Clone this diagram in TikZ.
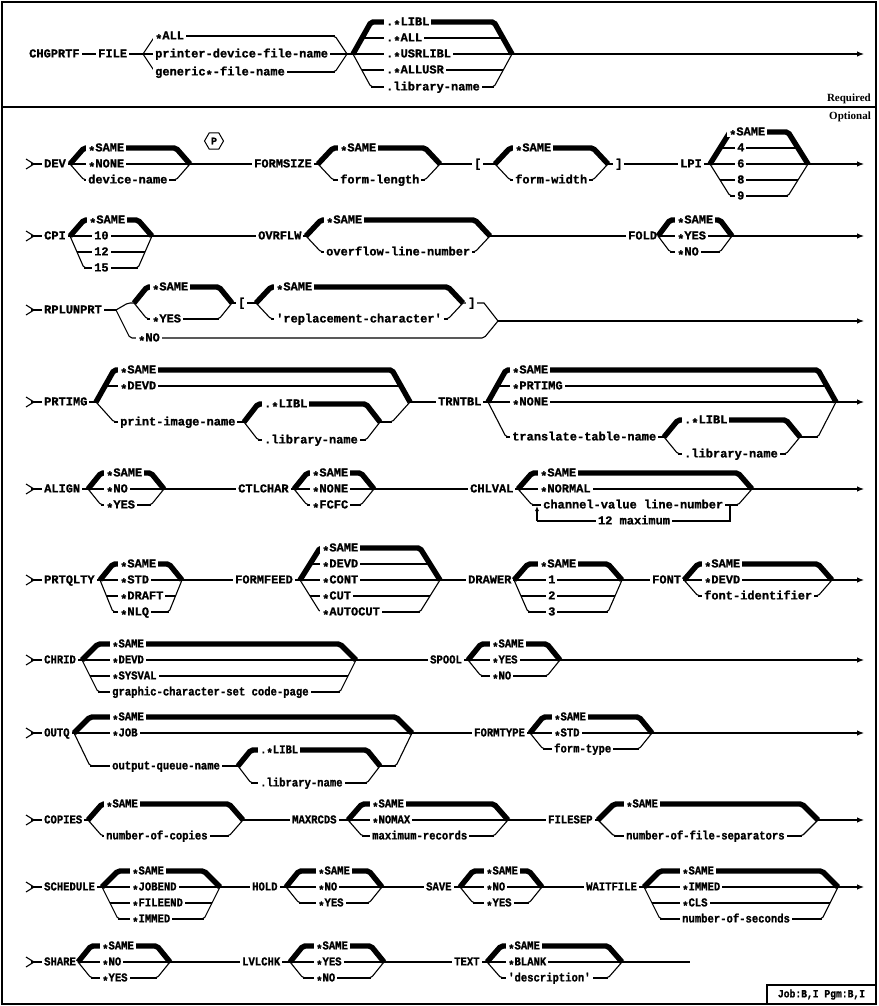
\documentclass[tikz,border=0pt]{standalone}
\usepackage{fontspec}
\setmainfont{Liberation Serif}
\newfontfamily\dfont{Liberation Mono}[BoldFeatures={FakeBold=1.2}]
\newfontfamily\cfont{Liberation Mono}[FakeStretch=0.88,BoldFeatures={FakeBold=1.2}]
\usetikzlibrary{arrows.meta,shapes.geometric}
\newcommand\curfont{\dfont\bfseries\fontsize{12}{12}\selectfont}
\newcommand\A{\raisebox{-0.3em}{*}}
\tikzset{
 ln/.style={line width=1.1pt},
 thk/.style={line width=5.4pt},
 arr/.style={line width=1.1pt,-{Latex[length=7pt,width=5.5pt]}},
 lab/.style={font=\curfont,fill=white,inner xsep=2pt,inner ysep=1.6pt,text height=6.8pt,text depth=0pt,anchor=west},
 hex/.style={draw,line width=1pt,regular polygon,regular polygon sides=6,minimum size=19pt,inner sep=0pt,font=\dfont\bfseries\fontsize{10}{10}\selectfont},
 tag/.style={font=\rmfamily\bfseries\fontsize{11}{11}\selectfont,anchor=east,inner sep=0pt}
}
% #1 xL, #2 xR, #3 ymain, #4 ytop, #5 ybot, #6 bracket width, #7 thick default, #8 items y/x/label
\newcommand\grp[8]{%
 \ifnum#7=1\relax
   \draw[thk,rounded corners=2pt] (#1,#3) -- ({#1+#6},#4) -- ({#2-#6},#4) -- (#2,#3);
 \else
   \draw[ln,rounded corners=2pt] (#1,#3) -- ({#1+#6},#4) -- ({#2-#6},#4) -- (#2,#3);
 \fi
 \draw[ln,rounded corners=2pt] (#1,#3) -- ({#1+#6},#5) -- ({#1+#6+6},#5);
 \draw[ln,rounded corners=2pt] ({#2-#6-6},#5) -- ({#2-#6},#5) -- (#2,#3);
 \foreach \yy/\xx/\lb in {#8}{%
   \pgfmathsetmacro\off{\yy<#3 ? #6*(#3-\yy)/max(#3-#4,0.01) : (\yy>#3 ? #6*(\yy-#3)/max(#5-#3,0.01) : 0)}%
   \ifdim\xx pt<0pt\else
     \draw[ln] ({#1+\off},\yy) -- ({#2-\off},\yy);
     \node[lab] at (\xx,\yy) {\lb};
   \fi
 }%
}
\newcommand\startm[2]{\draw[ln] (#1,{#2-5}) -- ({#1+8},#2) -- (#1,{#2+5});}
\begin{document}
\begin{tikzpicture}[x=1pt,y=-1pt]
\useasboundingbox (0,0) rectangle (878,1006);
\draw[line width=1.5pt] (2,2) rectangle (876,1004);
\draw[line width=1.5pt] (2,107) -- (876,107);
\node[tag] (req) at (871,99) {Required};
\node[tag] (opt) at (871,117) {Optional};

% ---- CHGPRTF
\draw[ln] (76,54) -- (143,54);
\node[lab] (chg) at (27,54) {CHGPRTF};
\node[lab] (file) at (96,54) {FILE};
\grp{143}{347}{54}{36}{72}{12}{0}{36/153/\A ALL, 54/153/printer-device-file-name, 72/153/generic\A-file-name}
\draw[ln] (347,54) -- (353,54);
\grp{353}{512}{54}{22}{87}{18}{1}{22/384/.\A LIBL, 38/384/.\A ALL, 54/384/.\A USRLIBL, 70/384/.\A ALLUSR, 87/384/.library-name}
\draw[arr] (512,54) -- (864,54);

% ---- DEV row
\startm{26}{164}
\draw[ln] (31,164) -- (70,164);
\node[lab] (dev) at (42,164) {DEV};
\grp{70}{190}{164}{148}{180}{14}{1}{148/86/\A SAME, 164/86/\A NONE, 180/86/device-name}
\node[hex] (p) at (214,141) {P};
\draw[ln] (190,164) -- (318,164);
\node[lab] (formsize) at (252,164) {FORMSIZE};
\grp{318}{440}{164}{148}{180}{15}{1}{148/338/\A SAME, 180/338/form-length}
\draw[ln] (440,164) -- (495,164);
\node[lab] (lb1) at (472,164) {[};
\grp{495}{608}{164}{148}{180}{15}{1}{148/513/\A SAME, 180/513/form-width}
\draw[ln] (608,164) -- (710,164);
\node[lab] (rb1) at (613,164) {]};
\node[lab] (lpi) at (678,164) {LPI};
\grp{710}{808}{164}{132}{196}{20}{1}{132/727/\A SAME, 148/735/4, 164/735/6, 180/735/8, 196/735/9}
\draw[arr] (808,164) -- (864,164);

% ---- CPI row
\startm{26}{236}
\draw[ln] (31,236) -- (70,236);
\node[lab] (cpi) at (42,236) {CPI};
\grp{70}{152}{236}{220}{268}{14}{1}{220/87/\A SAME, 236/92/10, 252/92/12, 268/92/15}
\draw[ln] (152,236) -- (306,236);
\node[lab] (ovr) at (256,236) {OVRFLW};
\grp{306}{490}{236}{220}{252}{15}{1}{220/324/\A SAME, 252/324/overflow-line-number}
\draw[ln] (490,236) -- (658,236);
\node[lab] (fold) at (626,236) {FOLD};
\grp{658}{732}{236}{220}{252}{12}{1}{220/675/\A SAME, 236/675/\A YES, 252/675/\A NO}
\draw[arr] (732,236) -- (864,236);

% ---- RPLUNPRT row
\startm{26}{310}
\draw[ln] (31,310) -- (116,310);
\node[lab] (rpl) at (42,310) {RPLUNPRT};
\draw[ln,rounded corners=2pt] (116,310) -- (128,303) -- (134,303);
\grp{134}{232}{303}{287}{319}{13}{1}{287/150/\A SAME, 319/150/\A YES}
\draw[ln] (232,303) -- (256,303);
\node[lab] (lb2) at (236,303) {[};
\grp{256}{463}{303}{287}{319}{15}{1}{287/274/\A SAME, 319/274/'replacement-character'}
\draw[ln] (463,303) -- (484,303) -- (498,321);
\node[lab] (rb2) at (466,303) {]};
\draw[ln,rounded corners=2pt] (116,310) -- (130,338) -- (484,338) -- (498,321);
\node[lab] (no) at (136,338) {\A NO};
\draw[arr] (498,321) -- (864,321);

% ---- PRTIMG row
\startm{26}{402}
\draw[ln] (31,402) -- (96,402);
\node[lab] (prtimg) at (42,402) {PRTIMG};
\grp{96}{410}{402}{370}{422}{18}{1}{370/118/\A SAME, 386/118/\A DEVD, 422/-1/x}
\draw[ln] (114,422) -- (244,422);
\node[lab] (pin) at (118,422) {print-image-name};
\grp{244}{380}{422}{404}{440}{14}{1}{404/262/.\A LIBL, 440/262/.library-name}
\draw[ln] (380,422) -- (392,422);
\draw[ln] (410,402) -- (488,402);
\node[lab] (trn) at (436,402) {TRNTBL};
\grp{488}{836}{402}{370}{437}{18}{1}{370/510/\A SAME, 386/510/\A PRTIMG, 402/510/\A NONE, 437/-1/x}
\draw[ln] (506,437) -- (664,437);
\node[lab] (ttn) at (510,437) {translate-table-name};
\grp{664}{800}{437}{420}{454}{14}{1}{420/682/.\A LIBL, 454/682/.library-name}
\draw[ln] (800,437) -- (818,437);
\draw[arr] (836,402) -- (864,402);

% ---- ALIGN row
\startm{26}{489}
\draw[ln] (31,489) -- (88,489);
\node[lab] (align) at (42,489) {ALIGN};
\grp{88}{164}{489}{473}{505}{13}{1}{473/104/\A SAME, 489/104/\A NO, 505/104/\A YES}
\draw[ln] (164,489) -- (294,489);
\node[lab] (ctl) at (236,489) {CTLCHAR};
\grp{294}{374}{489}{473}{505}{13}{1}{473/310/\A SAME, 489/310/\A NONE, 505/310/\A FCFC}
\draw[ln] (374,489) -- (518,489);
\node[lab] (chl) at (468,489) {CHLVAL};
\grp{518}{752}{489}{473}{505}{14}{1}{473/538/\A SAME, 489/538/\A NORMAL, 505/-1/x}
\draw[ln] (532,505) -- (738,505);
\draw[ln] (730,505) -- (730,521) -- (537,521);
\draw[ln,-{Latex[length=5pt,width=4pt]}] (537,521) -- (537,506);
\node[lab] (cvl) at (541,505) {channel-value line-number};
\node[lab,anchor=center] (max) at (634,521) {12 maximum};
\draw[arr] (752,489) -- (864,489);

% ---- PRTQLTY row
\startm{26}{580}
\draw[ln] (31,580) -- (100,580);
\node[lab] (prtq) at (42,580) {PRTQLTY};
\grp{100}{182}{580}{564}{612}{13}{1}{564/118/\A SAME, 580/118/\A STD, 596/118/\A DRAFT, 612/118/\A NLQ}
\draw[ln] (182,580) -- (300,580);
\node[lab] (ffd) at (233,580) {FORMFEED};
\grp{300}{440}{580}{548}{612}{20}{1}{548/320/\A SAME, 564/320/\A DEVD, 580/320/\A CONT, 596/320/\A CUT, 612/320/\A AUTOCUT}
\draw[ln] (440,580) -- (514,580);
\node[lab] (drw) at (466,580) {DRAWER};
\grp{514}{622}{580}{564}{612}{14}{1}{564/538/\A SAME, 580/546/1, 596/546/2, 612/546/3}
\draw[ln] (622,580) -- (684,580);
\node[lab] (font) at (650,580) {FONT};
\grp{684}{832}{580}{564}{596}{14}{1}{564/702/\A SAME, 580/702/\A DEVD, 596/702/font-identifier}
\draw[arr] (832,580) -- (864,580);

\renewcommand\curfont{\cfont\bfseries\fontsize{12}{12}\selectfont}

% ---- CHRID row
\startm{26}{660}
\draw[ln] (31,660) -- (82,660);
\node[lab] (chrid) at (42,660) {CHRID};
\grp{82}{356}{660}{644}{692}{16}{1}{644/110/\A SAME, 660/110/\A DEVD, 676/110/\A SYSVAL, 692/110/graphic-character-set code-page}
\draw[ln] (356,660) -- (468,660);
\node[lab] (spool) at (428,660) {SPOOL};
\grp{468}{560}{660}{644}{676}{13}{1}{644/490/\A SAME, 660/490/\A YES, 676/490/\A NO}
\draw[arr] (560,660) -- (864,660);

% ---- OUTQ row
\startm{26}{733}
\draw[ln] (31,733) -- (74,733);
\node[lab] (outq) at (42,733) {OUTQ};
\grp{74}{412}{733}{717}{766}{16}{1}{717/110/\A SAME, 733/110/\A JOB, 766/-1/x}
\draw[ln] (90,766) -- (238,766);
\node[lab] (oqn) at (110,766) {output-queue-name};
\grp{238}{380}{766}{750}{783}{13}{1}{750/258/.\A LIBL, 783/258/.library-name}
\draw[ln] (380,766) -- (396,766);
\draw[ln] (412,733) -- (530,733);
\node[lab] (ftype) at (472,733) {FORMTYPE};
\grp{530}{652}{733}{717}{749}{13}{1}{717/552/\A SAME, 733/552/\A STD, 749/552/form-type}
\draw[arr] (652,733) -- (864,733);

% ---- COPIES row
\startm{26}{820}
\draw[ln] (31,820) -- (88,820);
\node[lab] (copies) at (42,820) {COPIES};
\grp{88}{243}{820}{804}{836}{14}{1}{804/104/\A SAME, 836/104/number-of-copies}
\draw[ln] (243,820) -- (348,820);
\node[lab] (maxr) at (290,820) {MAXRCDS};
\grp{348}{508}{820}{804}{836}{14}{1}{804/370/\A SAME, 820/370/\A NOMAX, 836/370/maximum-records}
\draw[ln] (508,820) -- (598,820);
\node[lab] (fsep) at (546,820) {FILESEP};
\grp{598}{818}{820}{804}{836}{16}{1}{804/624/\A SAME, 836/624/number-of-file-separators}
\draw[arr] (818,820) -- (864,820);

% ---- SCHEDULE row
\startm{26}{887}
\draw[ln] (31,887) -- (102,887);
\node[lab] (sched) at (42,887) {SCHEDULE};
\grp{102}{220}{887}{871}{919}{16}{1}{871/130/\A SAME, 887/130/\A JOBEND, 903/130/\A FILEEND, 919/130/\A IMMED}
\draw[ln] (220,887) -- (286,887);
\node[lab] (hold) at (250,887) {HOLD};
\grp{286}{382}{887}{871}{903}{13}{1}{871/316/\A SAME, 887/316/\A NO, 903/316/\A YES}
\draw[ln] (382,887) -- (460,887);
\node[lab] (save) at (424,887) {SAVE};
\grp{460}{542}{887}{871}{903}{13}{1}{871/484/\A SAME, 887/484/\A NO, 903/484/\A YES}
\draw[ln] (542,887) -- (644,887);
\node[lab] (wait) at (584,887) {WAITFILE};
\grp{644}{838}{887}{871}{919}{16}{1}{871/680/\A SAME, 887/680/\A IMMED, 903/680/\A CLS, 919/680/number-of-seconds}
\draw[arr] (838,887) -- (864,887);

% ---- SHARE row
\startm{26}{962}
\draw[ln] (31,962) -- (78,962);
\node[lab] (share) at (42,962) {SHARE};
\grp{78}{170}{962}{946}{978}{13}{1}{946/100/\A SAME, 962/100/\A NO, 978/100/\A YES}
\draw[ln] (170,962) -- (290,962);
\node[lab] (lvl) at (240,962) {LVLCHK};
\grp{290}{384}{962}{946}{978}{13}{1}{946/314/\A SAME, 962/314/\A YES, 978/314/\A NO}
\draw[ln] (384,962) -- (487,962);
\node[lab] (text) at (452,962) {TEXT};
\grp{487}{622}{962}{946}{978}{14}{1}{946/506/\A SAME, 962/506/\A BLANK, 978/506/'description'}
\draw[ln] (622,962) -- (690,962);

% ---- job box
\draw[line width=1.3pt] (767,985) rectangle (876,1004);
\node[font=\cfont\bfseries\fontsize{11}{11}\selectfont,inner sep=0pt] (job) at (821.5,994.5) {Job:B,I\ Pgm:B,I};
\end{tikzpicture}
\end{document}
